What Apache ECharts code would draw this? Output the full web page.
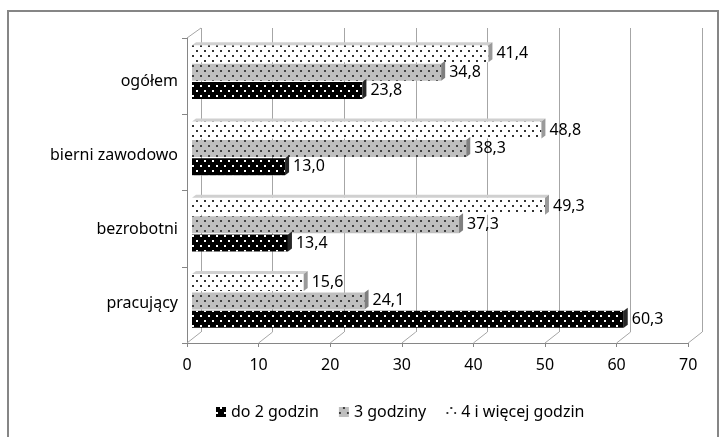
<!DOCTYPE html>
<html><head><meta charset="utf-8">
<script src="https://cdn.jsdelivr.net/npm/echarts@6/dist/echarts.min.js"></script>
<style>html,body{margin:0;padding:0;background:#fff}#c{width:726px;height:437px}</style>
</head><body><div id="c"></div>
<script>
const categories = ['pracujący', 'bezrobotni', 'bierni zawodowo', 'ogółem'];
const seriesNames = ['do 2 godzin', '3 godziny', '4 i więcej godzin'];
const upTo2h = [60.3, 13.4, 13.0, 23.8];
const h3 = [24.1, 37.3, 38.3, 34.8];
const h4plus = [15.6, 49.3, 48.8, 41.4];
const xTicks = [0, 10, 20, 30, 40, 50, 60, 70];

const FONT = 'Noto Sans';
const BW = 17, GAP = 0.08;
const values = [upTo2h, h3, h4plus];
const fills = ['#000000', '#bfbfbf', '#ffffff'];
const dots = ['#ffffff', '#404040', '#333333'];
const caps = ['#262626', '#7f7f7f', '#9a9a9a'];
// drawing order: first bar series sits on top of each group
const drawOrder = [2, 1, 0];

function decal(c) {
  return { symbol: 'rect', symbolSize: 1, color: c, dashArrayX: [[2, 6], [0, 4, 2, 2]], dashArrayY: [2, 3], rotation: 0 };
}
const fmt = v => v.toFixed(1).replace('.', ',');

const chart = echarts.init(document.getElementById('c'));
const series = [];
drawOrder.forEach(k => {
  series.push({
    type: 'bar', name: seriesNames[k], data: values[k], xAxisIndex: 0, yAxisIndex: 0,
    barWidth: BW, barGap: (GAP * 100) + '%', z: 3,
    itemStyle: { color: fills[k], decal: decal(dots[k]), borderWidth: 0 },
    label: { show: true, position: 'right', distance: 8, fontFamily: FONT, fontSize: 16, color: '#000', formatter: p => fmt(p.value) }
  });
});
const capData = [];
drawOrder.forEach((k, pos) => values[k].forEach((v, i) => capData.push([v, i, k, pos])));
series.push({
  type: 'custom', xAxisIndex: 0, yAxisIndex: 0, z: 4, silent: true,
  data: capData, encode: { x: 0, y: 1 },
  renderItem: (params, api) => {
    const v = api.value(0), i = api.value(1), k = api.value(2), pos = api.value(3);
    const c = api.coord([v, i]);
    const x0 = api.coord([0, i])[0];
    const gapPx = BW * GAP;
    const total = 3 * BW + 2 * gapPx;
    const top = c[1] - total / 2 + pos * (BW + gapPx);
    const bot = top + BW;
    const x = c[0];
    const children = [];
    if (pos === 0) {
      children.push({ type: 'polygon', shape: { points: [[x0, top], [x0 + 4, top - 3], [x + 4, top - 3], [x, top]] }, style: { fill: '#d0d0d0' } });
    }
    children.push({ type: 'polygon', shape: { points: [[x, top], [x + 4, top - 3], [x + 4, bot - 3], [x, bot]] }, style: { fill: caps[k] } });
    return { type: 'group', children };
  }
});
series.push({
  type: 'custom', xAxisIndex: 1, yAxisIndex: 1, z: 1, silent: true,
  data: xTicks.map(t => [t, 0]), encode: { x: 0, y: 1 },
  renderItem: (params, api) => {
    const x = api.coord([api.value(0), 0])[0];
    const cs = params.coordSys;
    const yb = cs.y + cs.height;
    const children = [{ type: 'line', shape: { x1: x, y1: yb, x2: x + 14, y2: yb - 11 }, style: { stroke: '#a6a6a6', lineWidth: 1 } }];
    if (params.dataIndex === 0) children.push({ type: 'line', shape: { x1: cs.x, y1: cs.y, x2: cs.x + 14, y2: cs.y - 10 }, style: { stroke: '#a6a6a6', lineWidth: 1 } });
    return { type: 'group', children };
  }
});

chart.setOption({
  animation: false,
  textStyle: { fontFamily: FONT },
  legend: {
    data: seriesNames, left: 211, top: 399, itemWidth: 10, itemHeight: 10, itemGap: 20, icon: 'rect',
    textStyle: { fontFamily: FONT, fontSize: 16, color: '#000' }
  },
  graphic: [{ type: 'rect', shape: { x: 8, y: 11, width: 710, height: 440 }, style: { fill: 'none', stroke: '#868686', lineWidth: 2 }, z: 0 }],
  grid: [
    { left: 192, top: 34, width: 501.2, height: 305 },
    { left: 187, top: 38, width: 501.2, height: 305 },
    { left: 201, top: 28, width: 501.2, height: 304 },
    { left: 187, top: 44, width: 501.2, height: 297 }
  ],
  xAxis: [
    { gridIndex: 0, type: 'value', min: 0, max: 70, interval: 10, show: false, splitLine: { show: false } },
    { gridIndex: 1, type: 'value', min: 0, max: 70, interval: 10,
      axisLine: { show: true, lineStyle: { color: '#868686' } },
      axisTick: { show: true, length: 4, lineStyle: { color: '#868686' } },
      axisLabel: { margin: 14, fontFamily: FONT, fontSize: 16, color: '#000', formatter: v => String(v) },
      splitLine: { show: false } },
    { gridIndex: 2, type: 'value', min: 0, max: 70, interval: 10,
      axisLine: { show: false }, axisTick: { show: false }, axisLabel: { show: false },
      splitLine: { show: true, lineStyle: { color: '#a6a6a6', width: 1 } } },
    { gridIndex: 3, type: 'value', min: 0, max: 70, interval: 10, show: false, splitLine: { show: false } }
  ],
  yAxis: [
    { gridIndex: 0, type: 'category', data: categories, show: false },
    { gridIndex: 1, type: 'category', data: categories,
      axisLine: { show: true, lineStyle: { color: '#868686' } },
      axisTick: { show: true, length: 5, lineStyle: { color: '#868686' } },
      axisLabel: { show: false } },
    { gridIndex: 2, type: 'value', show: false, splitLine: { show: false } },
    { gridIndex: 3, type: 'category', data: categories,
      axisLine: { show: false }, axisTick: { show: false },
      axisLabel: { margin: 9, fontFamily: FONT, fontSize: 16, color: '#000' } }
  ],
  series
});
</script></body></html>
